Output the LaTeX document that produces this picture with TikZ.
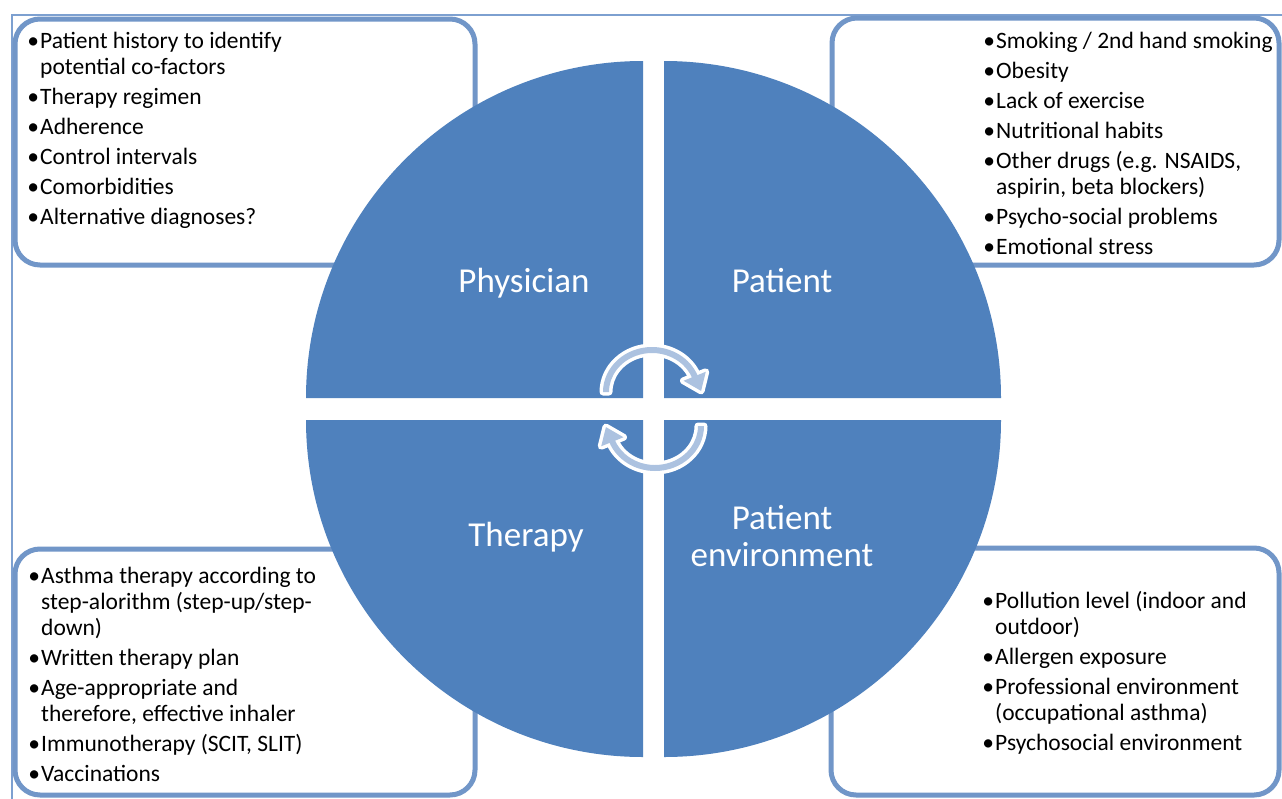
\documentclass[tikz,border=0pt]{standalone}
\usepackage{fontspec}
\setmainfont{Carlito}
\usetikzlibrary{calc}
\definecolor{quadfill}{RGB}{79,129,189}
\definecolor{boxline}{RGB}{113,150,200}
\definecolor{frameline}{RGB}{125,160,208}
\definecolor{arrowfill}{RGB}{172,194,224}
\newcommand\bl{\makebox[14pt][c]{•}}
\newcommand\cl{\hspace*{14pt}}
\newcommand\bodyfont{\fontsize{23.5}{26}\selectfont}
\newcommand\labfont{\fontsize{35}{37}\selectfont}
\tikzset{
  infobox/.style={draw=boxline, line width=5pt, rounded corners=25pt, fill=white},
  quadrant/.style={fill=quadfill},
  listtext/.style={anchor=base west, inner sep=0pt},
  quadlabel/.style={anchor=base, inner sep=0pt, text=white, font=\labfont},
  cyclearrow/.pic={
    \path[fill=arrowfill, preaction={draw=white, line width=7pt, line join=round}]
      (180:49 and 45) arc[start angle=180, end angle=338, x radius=49, y radius=45]
      -- (338:58 and 54) -- (49.1,-1.1) -- (338:34 and 30) -- (338:43 and 39)
      arc[start angle=338, end angle=180, x radius=43, y radius=39] -- cycle;
  }
}
\begin{document}
\begin{tikzpicture}[x=1pt, y=-1pt]
\useasboundingbox (0,0) rectangle (1282,798);
\clip (0,0) rectangle (1282,798);
\fill[white] (0,0) rectangle (1282,798);
% outer frame
\draw[frameline, line width=1.5pt] (12,15) rectangle (1300,820);
% info boxes
\draw[infobox] (15,19) rectangle (475,265);
\draw[infobox] (832,18) rectangle (1279,265);
\draw[infobox] (15,549) rectangle (475,795);
\draw[infobox] (831,548) rectangle (1279,795);
% quadrants
\fill[quadrant] (643,398) -- ++(-337,0) arc[start angle=180, end angle=270, radius=337] -- cycle;
\fill[quadrant] (664,398) -- ++(0,-337) arc[start angle=270, end angle=360, radius=337] -- cycle;
\fill[quadrant] (643,420) -- ++(-337,0) arc[start angle=180, end angle=90, radius=337] -- cycle;
\fill[quadrant] (664,420) -- ++(337,0) arc[start angle=0, end angle=90, radius=337] -- cycle;
% cycle arrows
\pic (arrowtop) at (652,392) {cyclearrow};
\pic[rotate=180] (arrowbot) at (655,426) {cyclearrow};
% quadrant labels
\node[quadlabel] (physician) at (524,292) {Physician};
\node[quadlabel] (patient) at (782,292) {Patient};
\node[quadlabel] (therapy) at (526,546) {Therapy};
\node[quadlabel] (environment) at (782,529) {\begin{tabular}[t]{@{}c@{}}Patient\\environment\end{tabular}};
% lists
\node[listtext] (physlist) at (26,48) {\begin{minipage}[t]{445pt}\bodyfont
\bl Patient history to identify\\
\cl potential co-factors\\[4pt]
\bl Therapy regimen\\[4pt]
\bl Adherence\\[4pt]
\bl Control intervals\\[4pt]
\bl Comorbidities\\[4pt]
\bl Alternative diagnoses?
\end{minipage}};
\node[listtext] (patlist) at (982,48) {\begin{minipage}[t]{300pt}\bodyfont
\bl Smoking / 2nd hand smoking\\[4pt]
\bl Obesity\\[4pt]
\bl Lack of exercise\\[4pt]
\bl Nutritional habits\\[4pt]
\bl Other drugs (e.g. NSAIDS,\\
\cl aspirin, beta blockers)\\[4pt]
\bl Psycho-social problems\\[4pt]
\bl Emotional stress
\end{minipage}};
\node[listtext] (thlist) at (27,583) {\begin{minipage}[t]{445pt}\bodyfont
\bl Asthma therapy according to\\
\cl step-alorithm (step-up/step-\\
\cl down)\\[4pt]
\bl Written therapy plan\\[4pt]
\bl Age-appropriate and\\
\cl therefore, effective inhaler\\[4pt]
\bl Immunotherapy (SCIT, SLIT)\\[4pt]
\bl Vaccinations
\end{minipage}};
\node[listtext] (envlist) at (981,608) {\begin{minipage}[t]{300pt}\bodyfont
\bl Pollution level (indoor and\\
\cl outdoor)\\[4pt]
\bl Allergen exposure\\[4pt]
\bl Professional environment\\
\cl (occupational asthma)\\[4pt]
\bl Psychosocial environment
\end{minipage}};
\end{tikzpicture}
\end{document}
